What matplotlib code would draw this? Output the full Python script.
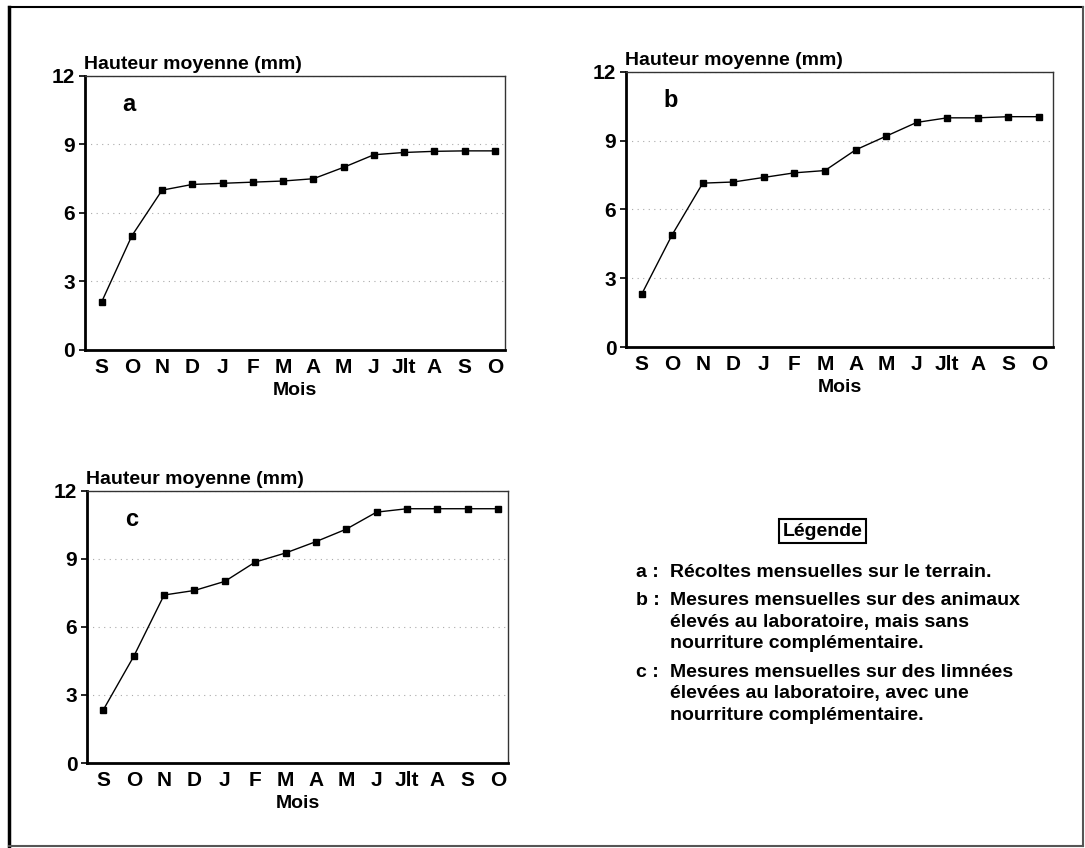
import matplotlib
matplotlib.use('Agg')
import matplotlib.pyplot as plt
from matplotlib.lines import Line2D

plt.rcParams['font.family'] = ['Liberation Sans', 'DejaVu Sans']
plt.rcParams['font.weight'] = 'bold'

# mois de septembre à octobre de l'année suivante
mois = ['S', 'O', 'N', 'D', 'J', 'F', 'M', 'A', 'M', 'J', 'Jlt', 'A', 'S', 'O']

hauteur_a = [2.1, 5.0, 7.0, 7.25, 7.3, 7.35, 7.4, 7.5, 8.0, 8.55, 8.65, 8.7, 8.72, 8.72]
hauteur_b = [2.3, 4.9, 7.15, 7.2, 7.4, 7.6, 7.7, 8.6, 9.2, 9.8, 10.0, 10.0, 10.05, 10.05]
hauteur_c = [2.35, 4.7, 7.4, 7.6, 8.0, 8.85, 9.25, 9.75, 10.3, 11.05, 11.2, 11.2, 11.2, 11.2]

y_ticks = [0, 3, 6, 9, 12]

legende_lettres = ['a :', 'b :', 'c :']
legende_textes = [
    ['Récoltes mensuelles sur le terrain.'],
    ['Mesures mensuelles sur des animaux',
     'élevés au laboratoire, mais sans',
     'nourriture complémentaire.'],
    ['Mesures mensuelles sur des limnées',
     'élevées au laboratoire, avec une',
     'nourriture complémentaire.'],
]

W, H = 1085, 848
fig = plt.figure(figsize=(W / 100, H / 100), dpi=100)


def px(x, y):
    """pixels (haut-gauche) -> fraction de figure"""
    return x / W, 1 - y / H


def panneau(rect, valeurs, lettre, xlim):
    ax = fig.add_axes(rect)
    x = list(range(len(mois)))
    ax.plot(x, valeurs, color='black', lw=1.0, marker='s', ms=5,
            mfc='black', mec='black', zorder=3)
    ax.set_xlim(*xlim)
    ax.set_ylim(0, 12)
    ax.set_xticks(x)
    ax.set_xticklabels(mois)
    ax.set_yticks(y_ticks)
    ax.tick_params(axis='x', length=0, pad=6, labelsize=15)
    ax.tick_params(axis='y', length=4, width=1.2, pad=3, labelsize=15)
    for t in ax.get_xticklabels() + ax.get_yticklabels():
        t.set_fontweight('bold')
    ax.grid(axis='y', color='#aaaaaa', lw=0.8, ls=(0, (1, 4)))
    ax.set_axisbelow(True)
    ax.spines['left'].set_linewidth(2.0)
    ax.spines['bottom'].set_linewidth(2.0)
    for s in ('top', 'right'):
        ax.spines[s].set_linewidth(1.0)
        ax.spines[s].set_color('#333333')
    ax.annotate('Hauteur moyenne (mm)', xy=(0, 1), xycoords='axes fraction',
                xytext=(-1, 5), textcoords='offset points',
                ha='left', va='baseline', fontsize=14, fontweight='bold')
    ax.text(0.5, -0.147, 'Mois', transform=ax.transAxes,
            ha='center', va='center', fontsize=14, fontweight='bold')
    ax.text(0.105, 0.895, lettre, transform=ax.transAxes,
            ha='center', va='center', fontsize=17, fontweight='bold')
    return ax


panneau([0.0783, 0.5873, 0.3871, 0.3231], hauteur_a, 'a', (-0.55, 13.33))
panneau([0.5770, 0.5908, 0.3935, 0.3243], hauteur_b, 'b', (-0.51, 13.46))
panneau([0.0802, 0.1002, 0.3880, 0.3213], hauteur_c, 'c', (-0.54, 13.33))

# légende
fig.text(*px(822.5, 531), 'Légende', ha='center', va='center',
         fontsize=14, fontweight='bold',
         bbox=dict(boxstyle='square,pad=0.2', fc='white', ec='black', lw=1.5))

x_lettre = 636
x_texte = 670
y_base = [576.7, 605, 676.7]
interligne = 21.7
for lettre, lignes, y0 in zip(legende_lettres, legende_textes, y_base):
    fig.text(*px(x_lettre, y0), lettre, ha='left', va='baseline',
             fontsize=14, fontweight='bold')
    for i, ligne in enumerate(lignes):
        fig.text(*px(x_texte, y0 + i * interligne), ligne, ha='left',
                 va='baseline', fontsize=14, fontweight='bold')

# cadre de la figure
x0, y0 = px(9, 846)
x1, y1 = px(1083, 7)
fig.add_artist(Line2D([x0, x0], [y0, y1], transform=fig.transFigure, color='black', lw=2.5))
fig.add_artist(Line2D([x0, x1], [y1, y1], transform=fig.transFigure, color='black', lw=1.5))
fig.add_artist(Line2D([x1, x1], [y0, y1], transform=fig.transFigure, color='#555555', lw=1.5))
fig.add_artist(Line2D([x0, x1], [y0, y0], transform=fig.transFigure, color='#555555', lw=1.5))

fig.savefig('out.png', dpi=100)
